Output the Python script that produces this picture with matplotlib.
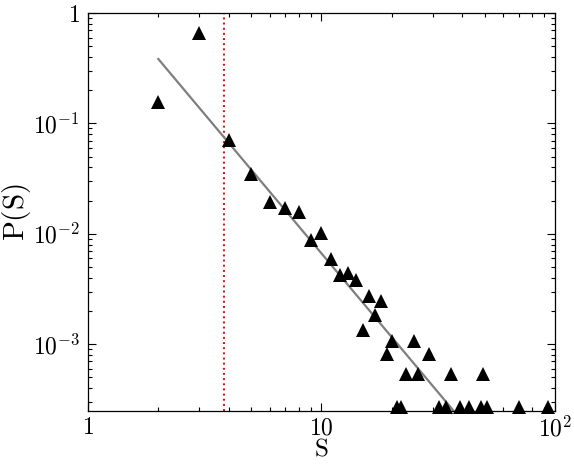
import matplotlib
matplotlib.use("Agg")
import matplotlib.pyplot as plt
from matplotlib.ticker import FixedLocator, FixedFormatter, LogLocator, NullFormatter

plt.rcParams['mathtext.fontset'] = 'cm'
plt.rcParams['font.family'] = 'serif'
plt.rcParams['font.serif'] = ['DejaVu Serif']

# data
S = [2, 3, 4, 5, 6, 7, 8, 9, 10, 11, 12, 13, 14, 15, 16, 17, 18, 19, 20,
     21, 22, 23, 25, 26, 29, 32, 34, 36, 39, 43, 48, 49, 51, 70, 93]
P = [0.155, 0.655, 0.071, 0.035, 0.0196, 0.0171, 0.0157, 0.0088, 0.0101,
     0.0059, 0.00425, 0.0044, 0.00378, 0.00135, 0.00271, 0.00185, 0.00244,
     0.00081, 0.00108, 0.00027, 0.00027, 0.00054, 0.00108, 0.00054, 0.00081,
     0.00027, 0.00027, 0.00054, 0.00027, 0.00027, 0.00027, 0.00054, 0.00027,
     0.00027, 0.00027]

# power-law fit P = C * S^-alpha
fit_C = 2.20
fit_alpha = 2.52
fit_S = [2, 100]
s_min = 3.81

fig = plt.figure(figsize=(5.74, 4.65), dpi=100)
ax = fig.add_axes([0.1533, 0.1168, 0.8136, 0.8552])
ax.set_xscale('log')
ax.set_yscale('log')

fit_P = [fit_C * s ** (-fit_alpha) for s in fit_S]
ax.plot(fit_S, fit_P, color='#7f7f7f', lw=1.6, zorder=2)
ax.axvline(s_min, color='red', ls=':', lw=1.4, zorder=1)
ax.plot(S, P, ls='none', marker='^', ms=10.5, color='black', mew=0,
        clip_on=False, zorder=3)

ax.set_xlim(1, 100)
ax.set_ylim(2.5e-4, 1)

ax.xaxis.set_major_locator(FixedLocator([1, 10, 100]))
ax.xaxis.set_major_formatter(FixedFormatter(['$1$', '$10$', '$10^{2}$']))
ax.yaxis.set_major_locator(FixedLocator([1e-3, 1e-2, 1e-1, 1]))
ax.yaxis.set_major_formatter(FixedFormatter(['$10^{-3}$', '$10^{-2}$', '$10^{-1}$', '$1$']))
for a in (ax.xaxis, ax.yaxis):
    a.set_minor_locator(LogLocator(base=10, subs=range(2, 10)))
    a.set_minor_formatter(NullFormatter())

ax.tick_params(which='both', direction='in', top=True, right=True, labelsize=17, width=0.8)
ax.tick_params(which='major', length=6, pad=6)
ax.tick_params(axis='x', which='major', pad=4)
ax.tick_params(which='minor', length=3)
for sp in ax.spines.values():
    sp.set_linewidth(0.9)

ax.set_xlabel('$\\mathrm{S}$', fontsize=18, labelpad=-3)
ax.set_ylabel('$\\mathrm{P(S)}$', fontsize=21, labelpad=0)

fig.savefig('out.png', dpi=100)
